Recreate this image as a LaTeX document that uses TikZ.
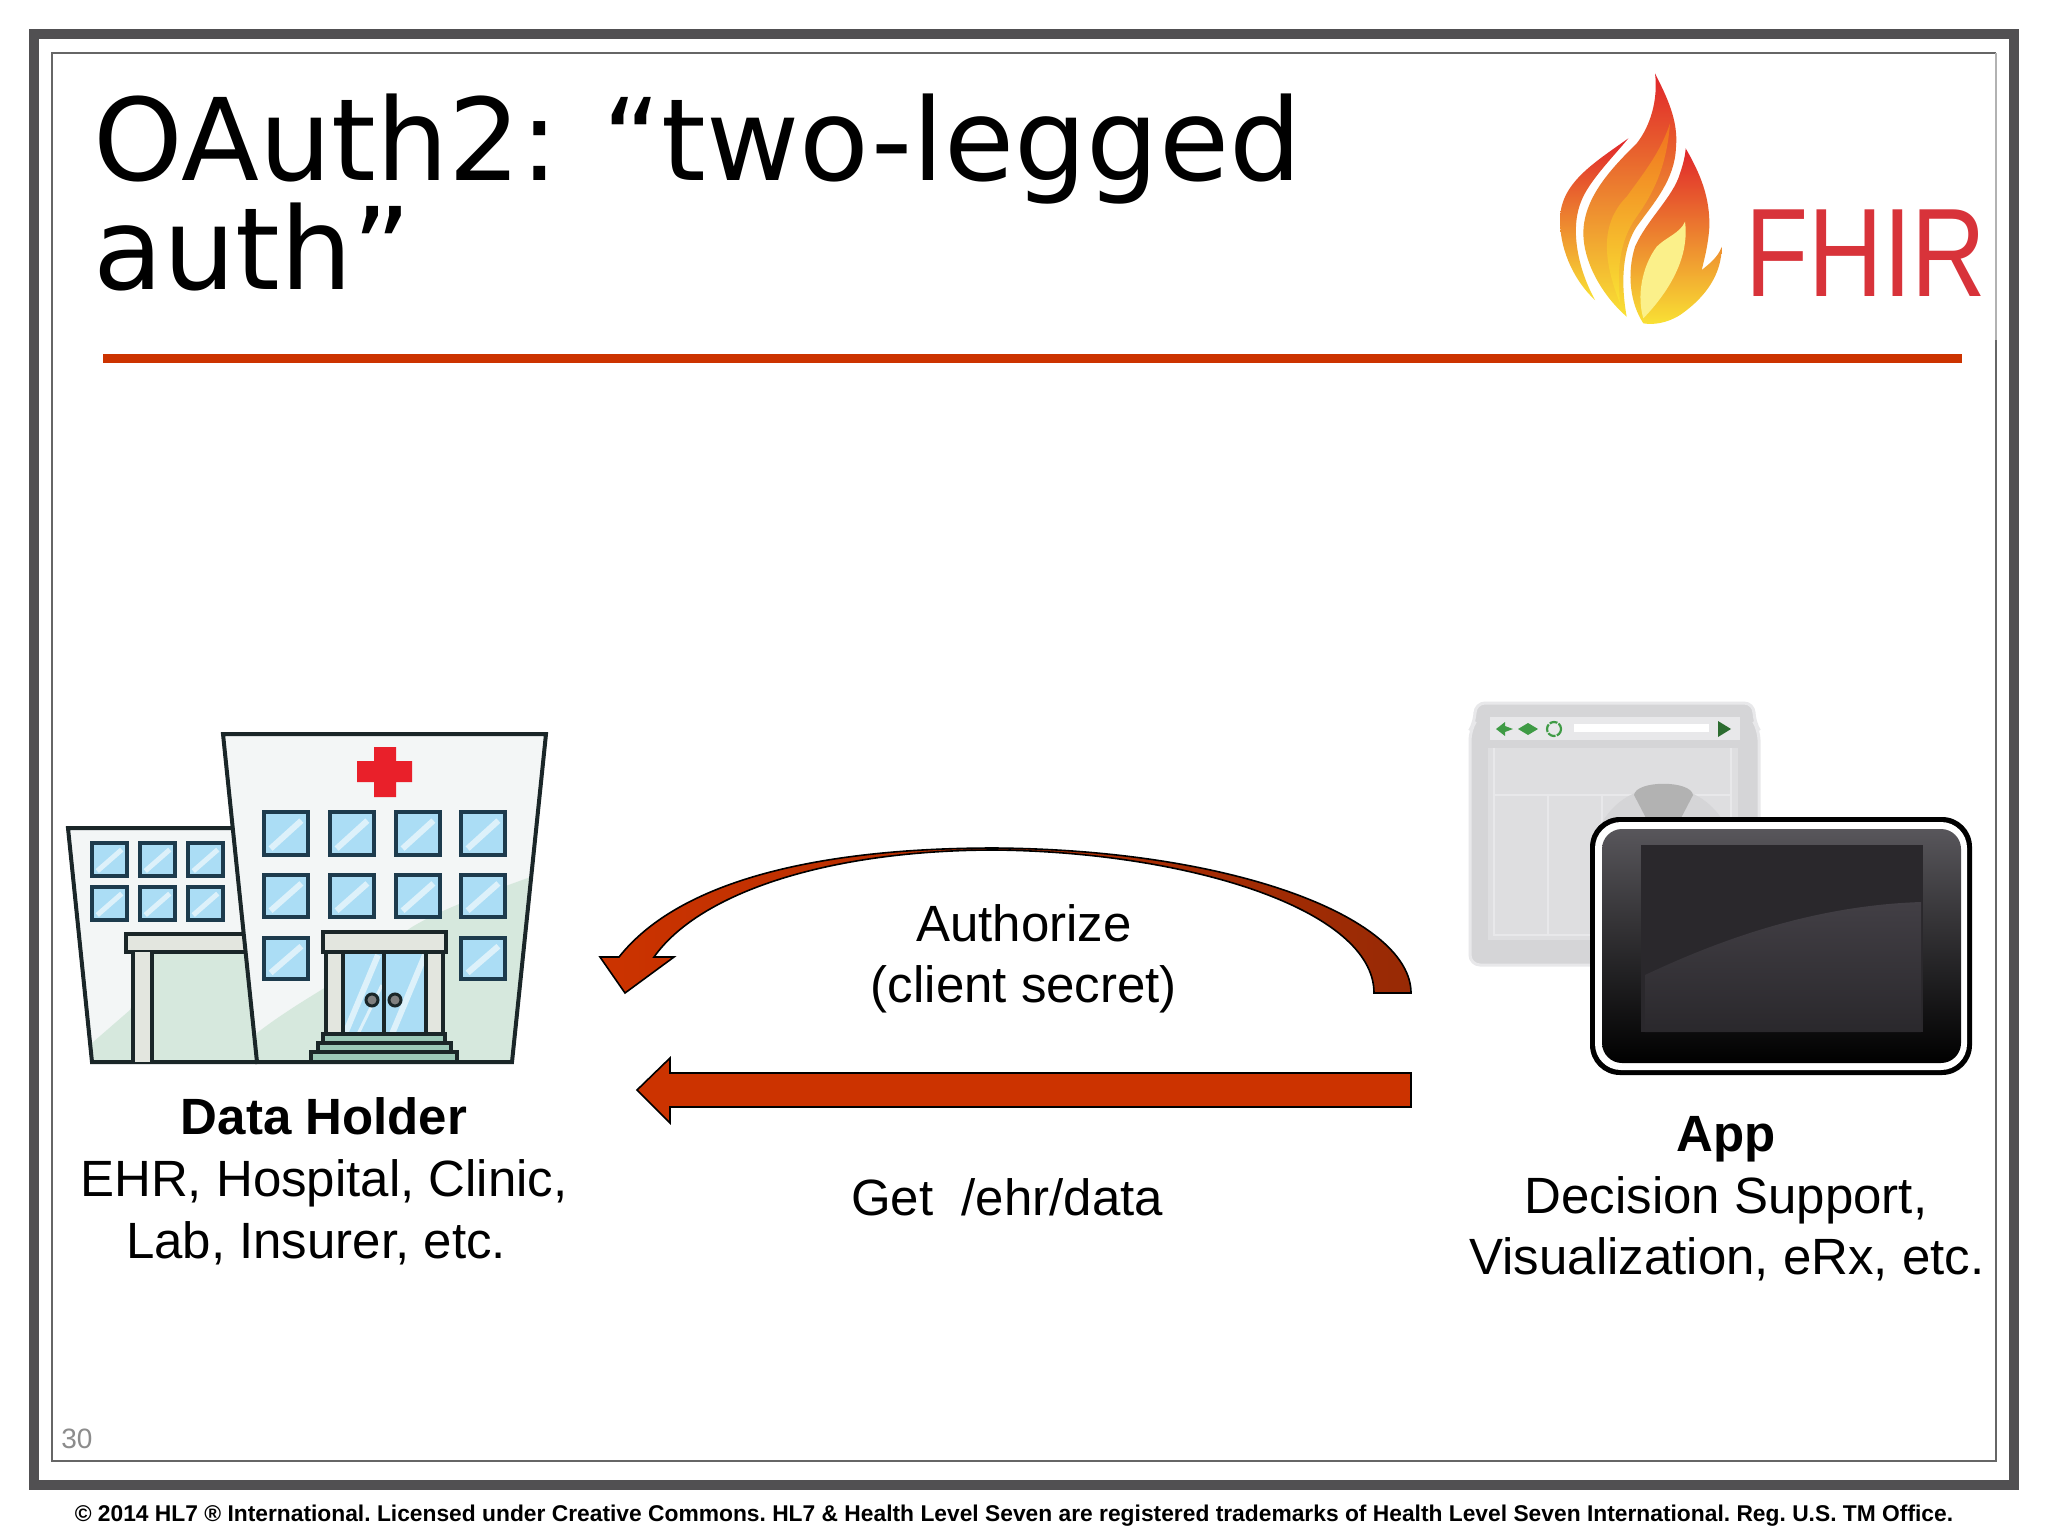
\documentclass[tikz,border=0pt]{standalone}
\usepackage{fontspec}
\setmainfont{Liberation Sans}
\newfontfamily\titlefont{DejaVu Sans}
\usetikzlibrary{shadings}
\frenchspacing
\definecolor{framegray}{HTML}{515052}
\definecolor{linegray}{HTML}{666666}
\definecolor{rulered}{HTML}{CC3300}
\definecolor{arrowdark}{HTML}{982A05}
\definecolor{winedge}{HTML}{1D3B4D}
\definecolor{winfill}{HTML}{ABDDF5}
\definecolor{winlight}{HTML}{DDF1FA}
\definecolor{bldedge}{HTML}{1A2628}
\definecolor{bldfill}{HTML}{F3F6F6}
\definecolor{bldtint}{HTML}{D6E8DD}
\definecolor{canopy}{HTML}{E3E6DF}
\definecolor{stepfill}{HTML}{9CC9B8}
\definecolor{crossred}{HTML}{E9202A}
\definecolor{browsermid}{HTML}{DEDEE0}
\definecolor{browserout}{HTML}{D5D5D7}
\definecolor{browserline}{HTML}{E8E8EA}
\definecolor{iconGreen}{HTML}{3F9B45}
\definecolor{fhirred}{HTML}{D8333A}
\definecolor{flamered}{HTML}{E0252B}
\definecolor{flameorange}{HTML}{F0701F}
\definecolor{flameyellow}{HTML}{F9E234}
\definecolor{flamepale}{HTML}{FBF08A}
\definecolor{bezeltop}{HTML}{58565B}
\definecolor{bezelmid}{HTML}{2A282B}
\definecolor{screendark}{HTML}{2A282C}
\definecolor{screenlight}{HTML}{423F45}
\tikzset{
  bigtext/.style={inner sep=0pt,anchor=base,font=\fontsize{25.5}{30}\selectfont},
  boldtext/.style={bigtext,font=\fontsize{25.5}{30}\selectfont\bfseries},
  blockarrow/.style={draw=black,line width=0.8pt,line join=miter},
  bld/.style={draw=bldedge,line width=2pt,line join=miter},
  thinbld/.style={draw=bldedge,line width=1.6pt},
}
\newcommand{\hwin}[5]{%
  \fill[winfill] (#1,#2) rectangle (#3,#4);
  \begin{scope}
    \clip (#1,#2) rectangle (#3,#4);
    \draw[winlight,line width=#5] ({#1+0.15*(#3-#1)},{#4-0.15*(#4-#2)}) -- ({#3-0.15*(#3-#1)},{#2+0.2*(#4-#2)});
  \end{scope}
  \draw[draw=winedge,line width=1.9pt] (#1,#2) rectangle (#3,#4);
}
\begin{document}
\begin{tikzpicture}[x=0.5pt,y=-0.5pt]
\useasboundingbox (0,0) rectangle (2048,1536);
\fill[white] (0,0) rectangle (2048,1536);

% slide frame
\draw[framegray,line width=5pt] (34,34) rectangle (2014,1485);
\draw[linegray,line width=0.8pt] (1996,340) -- (1996,1461) -- (52,1461) -- (52,53) -- (1996,53);
\draw[gray!60,line width=0.6pt] (1996,53) -- (1996,340);

% title
\node[name=t1,inner sep=0pt,anchor=base west,font=\titlefont\fontsize{57}{57}\selectfont] at (93,180) {OAuth2: \hspace{3.5pt}“two-legged};
\node[name=t2,inner sep=0pt,anchor=base west,font=\titlefont\fontsize{57}{57}\selectfont] at (93,289) {auth”};
\fill[rulered] (103,354) rectangle (1962,363);

% FHIR logo
\begin{scope}[shift={(1520,40)},x=0.16667pt,y=-0.16667pt]
  \shade[top color=flamered,middle color=flameorange,bottom color=flameyellow]
    (325,295) .. controls (220,370) and (120,430) .. (120,540)
    .. controls (120,640) and (170,730) .. (225,780)
    .. controls (170,680) and (150,560) .. (185,480)
    .. controls (210,420) and (280,350) .. (325,295) -- cycle;
  \shade[top color=flamered,middle color=flameorange,bottom color=flameyellow]
    (405,100) .. controls (440,170) and (475,240) .. (468,320)
    .. controls (465,420) and (400,490) .. (350,560)
    .. controls (310,620) and (300,720) .. (320,830)
    .. controls (240,760) and (190,660) .. (190,580)
    .. controls (190,470) and (280,380) .. (350,310)
    .. controls (390,260) and (415,180) .. (405,100) -- cycle;
  \shade[top color=flameorange,bottom color=flameyellow]
    (450,250) .. controls (420,340) and (370,400) .. (320,470)
    .. controls (250,540) and (240,640) .. (300,790)
    .. controls (290,680) and (300,600) .. (350,530)
    .. controls (400,460) and (440,380) .. (450,250) -- cycle;
  \shade[top color=flamered,middle color=flameorange,bottom color=flameyellow]
    (497,325) .. controls (540,400) and (570,470) .. (568,560)
    .. controls (565,610) and (555,650) .. (545,690)
    .. controls (570,670) and (595,650) .. (605,620)
    .. controls (605,700) and (560,770) .. (480,825)
    .. controls (440,850) and (400,855) .. (370,850)
    .. controls (330,790) and (320,700) .. (345,620)
    .. controls (380,540) and (460,470) .. (480,400)
    .. controls (490,370) and (495,350) .. (497,325) -- cycle;
  \fill[flamepale]
    (495,545) .. controls (505,620) and (480,720) .. (370,835)
    .. controls (350,770) and (365,680) .. (410,620)
    .. controls (440,590) and (480,580) .. (495,545) -- cycle;
\end{scope}
\node[name=fhir,inner sep=0pt,anchor=base west,xscale=0.82,text=fhirred,font=\fontsize{63}{63}\selectfont] at (1745,296) {FHIR};

% hospital: left wing
\fill[bldfill] (68,828) -- (231,828) -- (257,1062) -- (92,1062) -- cycle;
\begin{scope}
  \clip (68,828) -- (231,828) -- (257,1062) -- (92,1062) -- cycle;
  \fill[bldtint] (80,1062) -- (92,1043) -- (130,1010) -- (152,952) -- (260,952) -- (260,1062) -- cycle;
\end{scope}
\draw[bld] (231,828) -- (68,828) -- (92,1062) -- (257,1062);
\foreach \xa/\xb in {92/127,140/175,188/223}{
  \foreach \ya/\yb in {843/876,887/920}{
    \hwin{\xa}{\ya}{\xb}{\yb}{2.5pt}
  }
}
\fill[canopy] (126,934) rectangle (245,952);
\draw[thinbld] (245,934) -- (126,934) -- (126,952) -- (245,952);
\fill[canopy] (133,952) rectangle (152,1062);
\draw[thinbld] (133,952) -- (133,1062) (152,952) -- (152,1062);

% hospital: main block
\fill[bldfill] (223,734) -- (546,734) -- (512,1062) -- (257,1062) -- cycle;
\begin{scope}
  \clip (223,734) -- (546,734) -- (512,1062) -- (257,1062) -- cycle;
  \fill[bldtint] (257,1033) .. controls (280,1015) and (305,1000) .. (326,987)
    .. controls (355,965) and (385,945) .. (412,927)
    .. controls (440,910) and (480,895) .. (550,870) -- (550,1070) -- (250,1070) -- cycle;
\end{scope}
\draw[bld] (223,734) -- (546,734) -- (512,1062) -- (257,1062) -- cycle;
\foreach \xa/\xb in {264/308,330/374,396/440,461/505}{
  \foreach \ya/\yb in {812/855,875/917}{
    \hwin{\xa}{\ya}{\xb}{\yb}{3pt}
  }
}
\foreach \xa/\xb in {264/308,461/505}{
  \hwin{\xa}{938}{\xb}{979}{3pt}
}
\fill[crossred] (374,747) rectangle (396,761) (357,761) rectangle (412,782) (374,782) rectangle (396,797);

% main entrance
\fill[canopy] (326,952) rectangle (443,1034);
\fill[winfill] (343,952) rectangle (426,1034);
\begin{scope}
  \clip (343,952) rectangle (426,1034);
  \draw[winlight,line width=3pt] (345,1034) -- (378,955) (392,1034) -- (425,955);
  \draw[winlight,line width=1.5pt] (358,1034) -- (382,985);
\end{scope}
\draw[thinbld] (326,952) -- (326,1034) (343,952) -- (343,1034) (384,952) -- (384,1034) (426,952) -- (426,1034) (443,952) -- (443,1034);
\draw[thinbld,fill=canopy] (323,932) rectangle (446,952);
\draw[draw=bldedge,line width=1.5pt,fill=gray] (372,1000) circle[radius=6] (395,1000) circle[radius=6];
\draw[thinbld,fill=stepfill] (323,1034) rectangle (445,1043);
\draw[thinbld,fill=stepfill] (318,1043) rectangle (451,1052);
\draw[thinbld,fill=stepfill] (311,1052) rectangle (457,1062);

% browser window behind tablet
\draw[browserline,line width=1.5pt,fill=browserout,rounded corners=5pt] (1475,703) -- (1754,703) -- (1754,722) -- (1759,730) -- (1759,965) -- (1470,965) -- (1470,730) -- (1475,722) -- cycle;
\fill[browsermid] (1488,748) rectangle (1738,940);
\fill[browserline] (1490,717) rectangle (1740,740);
\fill[white] (1574,724) rectangle (1709,732);
\draw[browserline,line width=1pt] (1494,748) -- (1494,935) -- (1731,935) -- (1731,748) (1494,795) -- (1731,795) (1548,795) -- (1548,935) (1602,795) -- (1602,935);
\fill[browserout] (1663,857) circle[radius=70];
\fill[black!30] (1634,795) .. controls (1636,780) and (1691,780) .. (1693,795) -- (1680,820) -- (1647,820) -- cycle;
\fill[iconGreen] (1496,729) -- (1505,722) -- (1505,726) -- (1513,729) -- (1505,732) -- (1505,736) -- cycle;
\fill[iconGreen] (1518,729) -- (1528,723) -- (1538,729) -- (1528,735) -- cycle;
\draw[iconGreen,line width=1.1pt,dash pattern=on 4pt off 0.7pt] (1554,729) circle[radius=7];
\fill[iconGreen!70!black] (1718,721) -- (1731,729) -- (1718,737) -- cycle;

% tablet
\fill[black,rounded corners=15pt] (1590,817) rectangle (1972,1075);
\fill[white,rounded corners=13pt] (1595,822) rectangle (1967,1070);
\shade[rounded corners=10pt,top color=bezeltop,middle color=bezelmid,bottom color=black] (1602,829) rectangle (1961,1063);
\fill[screendark] (1641,845) rectangle (1923,1032);
\shade[top color=screenlight,bottom color=screendark] (1645,975) .. controls (1740,930) and (1830,905) .. (1921,902) -- (1921,1032) -- (1645,1032) -- cycle;

% arrows
\coordinate (authTail) at (1411,993);
\coordinate (authTip) at (625,993);
\shade[blockarrow,left color=rulered,middle color=rulered,right color=arrowdark]
  (authTail) .. controls (1411,920) and (1240,850) .. (995,848)
  .. controls (820,848) and (680,880) .. (619,957)
  -- (600,957) -- (authTip) -- (674,957) -- (654,957)
  .. controls (700,892) and (830,850) .. (995,850)
  .. controls (1190,852) and (1374,910) .. (1374,993) -- cycle;
\coordinate (getTail) at (1411,1090);
\coordinate (getTip) at (637,1090);
\draw[blockarrow,fill=rulered] (getTail) ++(0,-17) -- (670,1073) -- (670,1058) -- (getTip) -- (670,1123) -- (670,1107) -- (1411,1107) -- cycle;

% labels
\node[bigtext,name=auth1] at (1024,941) {Authorize};
\node[bigtext,name=auth2] at (1024,1002) {(client secret)};
\node[bigtext,name=getl] at (1007,1215) {Get\ \ /ehr/data};
\node[boldtext,name=dh1] at (324,1134) {Data Holder};
\node[bigtext,name=dh2] at (324,1196) {EHR, Hospital, Clinic,};
\node[bigtext,name=dh3] at (316,1258) {Lab, Insurer, etc.};
\node[boldtext,name=app1] at (1726,1151) {App};
\node[bigtext,name=app2] at (1726,1213) {Decision Support,};
\node[bigtext,name=app3] at (1727,1274) {Visualization, eRx, etc.};
\node[name=pageno,inner sep=0pt,anchor=base west,text=black!45,font=\fontsize{14}{14}\selectfont] at (61,1448) {30};
\node[name=foot,inner sep=0pt,anchor=base,font=\fontsize{11.4}{13}\selectfont\bfseries] at (1014,1521) {© 2014 HL7 ® International. Licensed under Creative Commons. HL7 \& Health Level Seven are registered trademarks of Health Level Seven International. Reg. U.S. TM Office.};
\end{tikzpicture}
\end{document}
